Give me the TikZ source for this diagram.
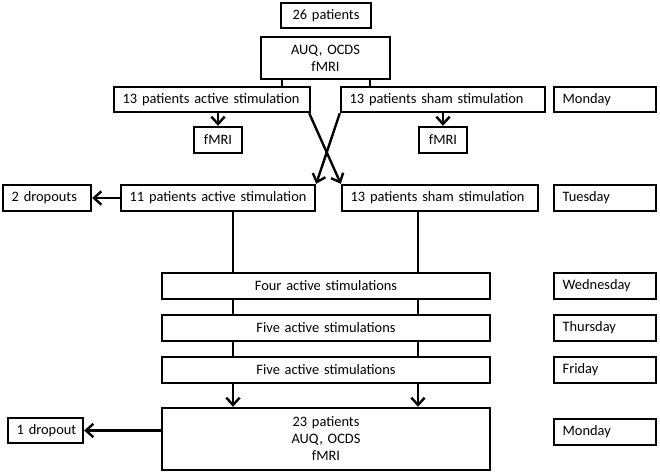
\documentclass[tikz,border=0pt]{standalone}
\usepackage{fontspec}
\setmainfont{Carlito}
\usetikzlibrary{arrows.meta}
\tikzset{
  box/.style={draw, line width=1.8pt, inner xsep=6.5pt, inner ysep=0pt,
    font=\fontsize{10.8}{12.75}\selectfont},
  ln/.style={line width=1.8pt},
  arr/.style={line width=1.8pt, -{Straight Barb[length=5.5pt,width=10pt,line width=1.8pt]}}
}
\newcommand\bxc[6]{%
  \pgfmathsetmacro\bw{(#4-#2)*0.75}%
  \pgfmathsetmacro\bh{(#5-#3)*0.75}%
  \pgfmathsetmacro\tw{(#4-#2)*0.75-13}%
  \node[box,minimum width=\bw pt,minimum height=\bh pt,text width=\tw pt,align=center]
    (#1) at ({(#2+#4)/2},{(#3+#5)/2}) {#6};}
\newcommand\bxl[6]{%
  \pgfmathsetmacro\bw{(#4-#2)*0.75}%
  \pgfmathsetmacro\bh{(#5-#3)*0.75}%
  \pgfmathsetmacro\tw{(#4-#2)*0.75-13}%
  \node[box,minimum width=\bw pt,minimum height=\bh pt,text width=\tw pt,align=left]
    (#1) at ({(#2+#4)/2},{(#3+#5)/2}) {\mbox{#6}};}
\begin{document}
\begin{tikzpicture}[x=0.75pt,y=-0.75pt]
\useasboundingbox (0,0) rectangle (660,473);
\bxc{p26}{281}{3}{371}{28}{26 patients}
\bxc{auq}{261}{37}{390}{79}{AUQ, OCDS\\fMRI}
\bxl{act1}{114}{87}{310}{112}{13 patients active stimulation}
\bxl{sham1}{341}{87}{545}{112}{13 patients sham stimulation}
\bxl{mon1}{554}{87}{656}{112}{Monday}
\bxc{fmriL}{194}{127}{242}{153}{fMRI}
\bxc{fmriR}{419}{127}{467}{153}{fMRI}
\bxl{drop2}{3}{185}{91}{211}{2 dropouts}
\bxl{act2}{121}{185}{315}{211}{11 patients active stimulation}
\bxl{sham2}{342}{185}{538}{211}{13 patients sham stimulation}
\bxl{tue}{554}{185}{656}{211}{Tuesday}
\bxc{four}{162}{273}{490}{299}{Four active stimulations}
\bxc{five1}{162}{315}{490}{341}{Five active stimulations}
\bxc{five2}{162}{357}{490}{383}{Five active stimulations}
\bxl{wed}{554}{273}{656}{299}{Wednesday}
\bxl{thu}{554}{315}{656}{341}{Thursday}
\bxl{fri}{554}{357}{656}{383}{Friday}
\bxc{final}{162}{408}{490}{470}{23 patients\\AUQ, OCDS\\fMRI}
\bxl{drop1}{8}{418}{83}{443}{1 dropout}
\bxl{mon2}{554}{419}{656}{445}{Monday}
\coordinate (UA) at (282,0);
\coordinate (UB) at (370,0);
\coordinate (LA) at (233,0);
\coordinate (LB) at (418,0);
\draw[ln] (auq.south -| UA) -- (act1.north -| UA);
\draw[ln] (auq.south -| UB) -- (sham1.north -| UB);
\draw[arr] (act1.south -| fmriL) -- (fmriL.north);
\draw[arr] (sham1.south -| fmriR) -- (fmriR.north);
\draw[arr] ([xshift=-1.5pt]act1.south east) -- (sham2.north west);
\draw[arr] (sham1.south west) -- (act2.north east);
\draw[arr] (act2.west) -- (drop2.east);
\draw[ln] (act2.south -| LA) -- (four.north -| LA);
\draw[ln] (sham2.south -| LB) -- (four.north -| LB);
\draw[ln] (four.south -| LA) -- (five1.north -| LA);
\draw[ln] (four.south -| LB) -- (five1.north -| LB);
\draw[ln] (five1.south -| LA) -- (five2.north -| LA);
\draw[ln] (five1.south -| LB) -- (five2.north -| LB);
\draw[arr] (five2.south -| LA) -- (final.north -| LA);
\draw[arr] (five2.south -| LB) -- (final.north -| LB);
\draw[arr] (final.west |- drop1.east) -- (drop1.east);
\end{tikzpicture}
\end{document}
